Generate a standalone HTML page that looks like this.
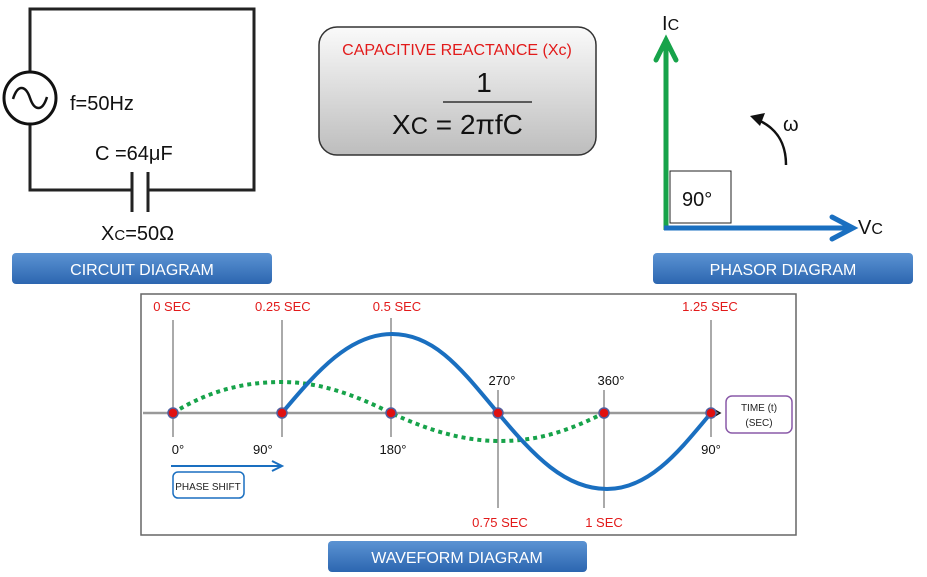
<!DOCTYPE html>
<html><head><meta charset="utf-8"><style>
body{margin:0;background:#fff;}
svg{display:block;font-family:"Liberation Sans",sans-serif;}
</style></head><body>
<svg width="927" height="577" viewBox="0 0 927 577" xmlns="http://www.w3.org/2000/svg">
<defs>
<linearGradient id="gb" x1="0" y1="0" x2="0" y2="1"><stop offset="0" stop-color="#5b93d3"/><stop offset="1" stop-color="#2c66b0"/></linearGradient>
<linearGradient id="gg" x1="0" y1="0" x2="0" y2="1"><stop offset="0" stop-color="#fafafa"/><stop offset="1" stop-color="#bdbdbd"/></linearGradient>
</defs>
<!-- circuit -->
<path d="M30,72 V9 H254 V190 H148 M132,190 H30 V124" fill="none" stroke="#222" stroke-width="3"/>
<circle cx="30" cy="98" r="26" fill="#fff" stroke="#111" stroke-width="3"/>
<path d="M13,99 C18,83 26,86 30,98 C34,110 42,113 47,97" fill="none" stroke="#111" stroke-width="2.5"/>
<line x1="132" y1="172" x2="132" y2="212" stroke="#222" stroke-width="3"/>
<line x1="148" y1="172" x2="148" y2="212" stroke="#222" stroke-width="3"/>
<text x="70" y="110" font-size="20" fill="#111">f=50Hz</text>
<text x="95" y="160" font-size="20" fill="#111">C =64μF</text>
<text x="101" y="240" font-size="20" fill="#111">X<tspan font-size="15">C</tspan>=50Ω</text>
<rect x="12" y="253" width="260" height="31" rx="4" fill="url(#gb)"/>
<text x="142" y="275" font-size="16" fill="#fff" text-anchor="middle">CIRCUIT  DIAGRAM</text>
<!-- formula -->
<rect x="319" y="27" width="277" height="128" rx="18" fill="url(#gg)" stroke="#333" stroke-width="1.5"/>
<text x="457" y="55" font-size="16" fill="#e21a1a" text-anchor="middle">CAPACITIVE REACTANCE (Xc)</text>
<text x="484" y="92" font-size="28" fill="#111" text-anchor="middle">1</text>
<line x1="443" y1="102" x2="532" y2="102" stroke="#111" stroke-width="1.2"/>
<text x="392" y="134" font-size="28" fill="#111">X<tspan font-size="24">C</tspan> = 2πfC</text>
<!-- phasor -->
<rect x="670" y="171" width="61" height="52" fill="#fff" stroke="#222" stroke-width="1"/>
<text x="682" y="206" font-size="20" fill="#111">90°</text>
<line x1="666" y1="230" x2="666" y2="42" stroke="#17a34a" stroke-width="5"/>
<path d="M656,60 L666,40 L676,60" fill="none" stroke="#17a34a" stroke-width="5" stroke-linecap="round"/>
<line x1="664" y1="228" x2="850" y2="228" stroke="#1a6fc0" stroke-width="5"/>
<path d="M832,217 L853,228 L832,239" fill="none" stroke="#1a6fc0" stroke-width="5" stroke-linecap="round"/>
<text x="662" y="30" font-size="20" fill="#111">I<tspan font-size="16">C</tspan></text>
<text x="858" y="234" font-size="20" fill="#111">V<tspan font-size="16">C</tspan></text>
<text x="783" y="131" font-size="20" fill="#111">ω</text>
<path d="M786,165 C786,142 776,128 758,120" fill="none" stroke="#111" stroke-width="2.5"/>
<path d="M750,116 L765,113 L760,126 Z" fill="#111"/>
<rect x="653" y="253" width="260" height="31" rx="4" fill="url(#gb)"/>
<text x="783" y="275" font-size="16" fill="#fff" text-anchor="middle">PHASOR DIAGRAM</text>
<!-- waveform -->
<rect x="141" y="294" width="655" height="241" fill="#fff" stroke="#666" stroke-width="1.5"/>
<g stroke="#555" stroke-width="1">
<line x1="173" y1="320" x2="173" y2="437"/>
<line x1="282" y1="320" x2="282" y2="437"/>
<line x1="391" y1="318" x2="391" y2="437"/>
<line x1="498" y1="390" x2="498" y2="508"/>
<line x1="604" y1="390" x2="604" y2="508"/>
<line x1="711" y1="320" x2="711" y2="437"/>
</g>
<line x1="143" y1="413" x2="718" y2="413" stroke="#999" stroke-width="2.5"/>
<path d="M713,409 L720,413 L713,417" fill="none" stroke="#111" stroke-width="1.5"/>
<path d="M173,413 C210,390 245,382 282,382 C320,382 355,395 391,413 C428,430 462,441 500,441 C540,441 570,430 604,413" fill="none" stroke="#17a34a" stroke-width="4" stroke-dasharray="4,4"/>
<path d="M282,413 C318,370 350,334 392,334 C435,334 462,370 498,413 C534,456 565,489 607,489 C650,489 680,450 711,413" fill="none" stroke="#1a6fc0" stroke-width="4"/>
<g fill="#e01010" stroke="#5060a0" stroke-width="1.5">
<circle cx="173" cy="413" r="5"/><circle cx="282" cy="413" r="5"/><circle cx="391" cy="413" r="5"/>
<circle cx="498" cy="413" r="5"/><circle cx="604" cy="413" r="5"/><circle cx="711" cy="413" r="5"/>
</g>
<g font-size="13" fill="#e21a1a" text-anchor="middle">
<text x="172" y="311">0 SEC</text><text x="255" y="311" text-anchor="start">0.25 SEC</text>
<text x="397" y="311">0.5 SEC</text><text x="710" y="311">1.25 SEC</text>
<text x="500" y="527">0.75 SEC</text><text x="604" y="527">1 SEC</text>
</g>
<g font-size="13" fill="#111" text-anchor="middle">
<text x="178" y="454">0°</text><text x="253" y="454" text-anchor="start">90°</text>
<text x="393" y="454">180°</text><text x="502" y="385">270°</text><text x="611" y="385">360°</text>
<text x="711" y="454">90°</text>
</g>
<rect x="726" y="396" width="66" height="37" rx="6" fill="#fff" stroke="#8a5aa8" stroke-width="1.5"/>
<text x="759" y="411" font-size="10" fill="#222" text-anchor="middle">TIME (t)</text>
<text x="759" y="426" font-size="10" fill="#222" text-anchor="middle">(SEC)</text>
<line x1="171" y1="466" x2="280" y2="466" stroke="#1a6fc0" stroke-width="2"/>
<path d="M272,461 L282,466 L272,471" fill="none" stroke="#1a6fc0" stroke-width="2"/>
<rect x="173" y="472" width="71" height="26" rx="5" fill="#fff" stroke="#1a6fc0" stroke-width="1.5"/>
<text x="208" y="490" font-size="10" fill="#222" text-anchor="middle">PHASE SHIFT</text>
<rect x="328" y="541" width="259" height="31" rx="4" fill="url(#gb)"/>
<text x="457" y="563" font-size="16" fill="#fff" text-anchor="middle">WAVEFORM  DIAGRAM</text>
</svg>
</body></html>
